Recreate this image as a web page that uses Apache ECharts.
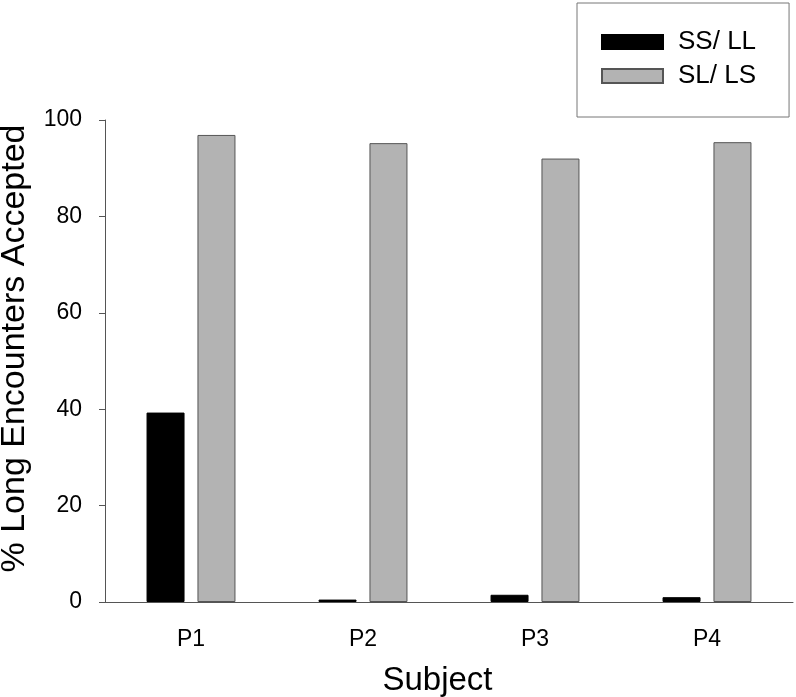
<!DOCTYPE html>
<html>
<head>
<meta charset="utf-8">
<script src="https://cdn.jsdelivr.net/npm/echarts@6/dist/echarts.min.js"></script>
<style>
html,body{margin:0;padding:0;background:#fff;}
#chart{width:796px;height:697px;}
</style>
</head>
<body>
<div id="chart"></div>
<script>
const categories = ['P1', 'P2', 'P3', 'P4'];
const ssll = [39.3, 0.5, 1.5, 1.0];
const slls = [96.9, 95.2, 92.0, 95.4];
const yTicks = [0, 20, 40, 60, 80, 100];

const FONT = '"Liberation Sans", Arial, sans-serif';
const chart = echarts.init(document.getElementById('chart'), null, {renderer: 'canvas'});
chart.setOption({
  animation: false,
  backgroundColor: '#fff',
  textStyle: {fontFamily: FONT},
  grid: {left: 105, right: 3, top: 120, bottom: 95, containLabel: false, outerBoundsMode: 'none'},
  legend: {
    orient: 'vertical',
    left: 577,
    top: 3,
    padding: [26, 33, 28, 24],
    itemWidth: 61,
    itemHeight: 14,
    itemGap: 8,
    icon: 'rect',
    borderColor: '#777',
    borderWidth: 1,
    textStyle: {fontSize: 26, color: '#000', fontFamily: FONT, lineHeight: 26, padding: [0, 0, 0, 10]},
    data: ['SS/ LL', 'SL/ LS']
  },
  xAxis: {
    type: 'category',
    data: categories,
    name: 'Subject',
    nameLocation: 'middle',
    nameGap: 62,
    nameTextStyle: {fontSize: 33, color: '#000', fontFamily: FONT, padding: [0, 23, 0, 0]},
    axisLine: {lineStyle: {color: '#555', width: 1}},
    axisTick: {alignWithLabel: true, length: 7, lineStyle: {color: '#555'}},
    axisLabel: {fontSize: 23, color: '#000', margin: 26, fontFamily: FONT}
  },
  yAxis: {
    type: 'value',
    min: yTicks[0],
    max: yTicks[yTicks.length - 1],
    interval: 20,
    name: '% Long Encounters Accepted',
    nameLocation: 'middle',
    nameGap: 73,
    nameTextStyle: {fontSize: 34, color: '#000', fontFamily: FONT, padding: [0, 0, 0, 25]},
    splitLine: {show: false},
    axisLine: {show: true, lineStyle: {color: '#555', width: 1}},
    axisTick: {show: true, length: 6, lineStyle: {color: '#555'}},
    axisLabel: {fontSize: 23, color: '#000', margin: 23, fontFamily: FONT}
  },
  series: [
    {
      name: 'SS/ LL',
      type: 'bar',
      data: ssll,
      barWidth: 38,
      barGap: '34%',
      itemStyle: {color: '#000', borderColor: '#000', borderWidth: 1}
    },
    {
      name: 'SL/ LS',
      type: 'bar',
      data: slls,
      barWidth: 38,
      barGap: '34%',
      itemStyle: {color: '#b3b3b3', borderColor: '#555', borderWidth: 1}
    }
  ]
});
</script>
</body>
</html>
